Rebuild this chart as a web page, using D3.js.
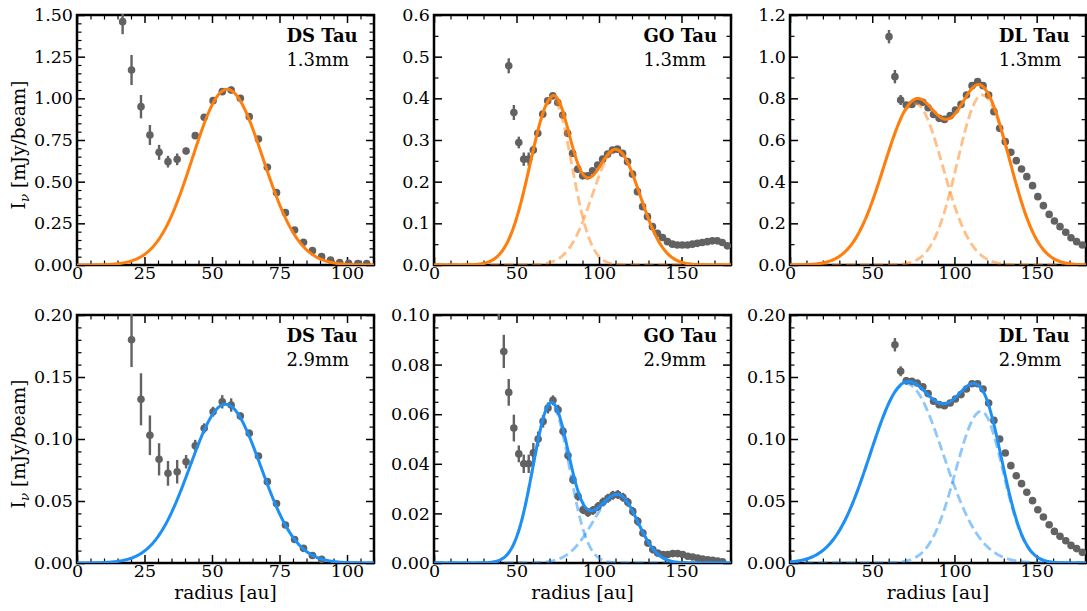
<!DOCTYPE html>
<html><head><meta charset="utf-8">
<script src="https://cdn.jsdelivr.net/npm/d3@7"></script>
<style>html,body{margin:0;padding:0;background:#fff;}svg{display:block;}</style>
</head><body>
<script>
// ---------------- DATA ----------------
const dsR13 = [16.9,20.2,23.7,27.0,30.4,33.7,37.1,40.4,43.8,47.1,50.4,53.8,57.1,60.5,63.8,67.2,70.5,73.9,77.2,80.6,83.9,87.2,90.6,93.9,97.3,100.6,104.0,107.3];
const dsI13 = [1.46,1.17,0.95,0.78,0.676,0.62,0.634,0.684,0.776,0.886,0.986,1.04,1.05,1.0,0.89,0.756,0.586,0.434,0.314,0.21,0.136,0.086,0.05,0.03,0.014,0.01,0.008,0.008];
const dsE13 = [0.075,0.09,0.07,0.06,0.045,0.035,0.035,0.02,0.02,0.015,0.015,0.02,0.02,0.015,0.012,0.012,0.01,0.01,0.01,0.01,0.01,0.01,0.008,0.008,0.008,0.008,0.008,0.008];

const dsR29 = [20.2,23.7,27.0,30.4,33.7,37.1,40.4,43.8,47.1,50.4,53.8,57.1,60.5,63.8,67.2,70.5,73.9,77.2,80.6,83.9,87.2,90.6];
const dsI29 = [0.18,0.132,0.103,0.0836,0.0723,0.0736,0.0817,0.0946,0.1086,0.122,0.130,0.1274,0.1185,0.1046,0.0863,0.0656,0.048,0.0306,0.019,0.0118,0.006,0.003];
const dsE29 = [0.022,0.021,0.016,0.013,0.010,0.0095,0.0054,0.0047,0.004,0.004,0.0054,0.0054,0.003,0.003,0.002,0.002,0.002,0.002,0.002,0.002,0.002,0.002];

const goR13 = [45.3,48.4,51.4,54.4,57.4,60.2,62.9,65.9,68.9,72.0,75.0,78.0,81.0,84.0,87.1,90.1,93.1,96.1,99.2,102.2,105.2,108.2,111.2,114.3,117.3,120.3,123.3,126.4,129.4,132.4,135.4,138.5,141.5,144.5,147.5,150.5,153.6,156.6,159.6,162.6,165.7,168.7,171.7,174.7,177.8];
const goI13 = [0.478,0.366,0.294,0.254,0.254,0.276,0.316,0.362,0.394,0.406,0.39,0.36,0.316,0.268,0.23,0.214,0.214,0.226,0.24,0.254,0.266,0.276,0.278,0.268,0.248,0.218,0.176,0.14,0.116,0.092,0.076,0.066,0.056,0.05,0.048,0.048,0.048,0.05,0.052,0.054,0.056,0.058,0.058,0.054,0.046];
const goE13 = [0.018,0.018,0.014,0.016,0.016,0.01,0.007,0.006,0.006,0.006,0.006,0.006,0.006,0.006,0.006,0.006,0.006,0.006,0.006,0.006,0.006,0.006,0.006,0.006,0.006,0.006,0.006,0.005,0.005,0.005,0.005,0.005,0.005,0.004,0.004,0.004,0.004,0.004,0.004,0.004,0.004,0.004,0.004,0.004,0.004];

const goR29 = [39.3,42.3,45.3,48.4,51.4,54.4,57.4,60.2,63.1,66.1,69.1,72.1,75.2,78.2,81.2,84.2,87.3,90.3,93.3,96.3,99.4,102.4,105.4,108.4,111.4,114.5,117.5,120.5,123.5,126.6,129.6,132.6,135.6,138.7,141.7,144.7,147.7,150.7,153.8,156.8,159.8,162.8,165.9,168.9,171.9,174.9];
const goI29 = [0.112,0.0853,0.0688,0.0544,0.044,0.040,0.040,0.0444,0.050,0.0571,0.0625,0.0656,0.0618,0.0531,0.0433,0.0336,0.0269,0.0215,0.0204,0.0212,0.0228,0.0246,0.0261,0.0273,0.0276,0.0265,0.0245,0.0208,0.0168,0.0121,0.0081,0.0054,0.004,0.0034,0.0034,0.0038,0.0038,0.0034,0.0027,0.0024,0.002,0.0016,0.0013,0.0011,0.0008,0.0005];
const goE29 = [0.014,0.0067,0.0054,0.0054,0.0034,0.0037,0.0037,0.004,0.003,0.0025,0.0022,0.002,0.002,0.002,0.002,0.0018,0.0018,0.0018,0.0018,0.0018,0.0018,0.0018,0.0018,0.0018,0.0018,0.0018,0.0018,0.0018,0.0018,0.0015,0.0015,0.0015,0.0012,0.0012,0.0012,0.0012,0.0012,0.0012,0.0012,0.0012,0.0012,0.0012,0.0012,0.0012,0.0012,0.0012];

const dlR13 = [60.2,63.8,67.3,70.7,74.1,77.4,80.8,84.0,87.3,90.7,93.9,97.4,100.6,104.0,107.3,110.7,114.1,117.4,120.8,124.0,127.5,130.9,134.3,137.6,140.8,144.0,147.5,150.7,154.1,157.6,160.8,164.2,167.7,170.9,174.3,177.8];
const dlI13 = [1.096,0.904,0.792,0.768,0.771,0.787,0.781,0.755,0.723,0.704,0.699,0.717,0.744,0.771,0.816,0.861,0.88,0.861,0.816,0.736,0.656,0.592,0.541,0.501,0.461,0.424,0.381,0.328,0.285,0.243,0.211,0.184,0.157,0.131,0.112,0.096];
const dlE13 = [0.032,0.032,0.024,0.015,0.012,0.012,0.012,0.012,0.012,0.012,0.012,0.012,0.012,0.012,0.012,0.012,0.012,0.012,0.012,0.012,0.01,0.01,0.01,0.01,0.01,0.01,0.01,0.01,0.01,0.01,0.01,0.01,0.01,0.01,0.01,0.01];

const dlR29 = [63.8,67.3,70.7,74.1,77.4,80.8,84.0,87.3,90.7,93.9,97.4,100.6,104.0,107.3,110.7,114.1,117.4,120.8,124.0,127.5,130.9,134.3,137.6,140.8,144.0,147.5,150.7,154.1,157.6,160.8,164.2,167.7,170.9,174.3,177.8];
const dlI29 = [0.176,0.1546,0.147,0.1465,0.1452,0.142,0.1366,0.1304,0.1277,0.1269,0.129,0.1323,0.1358,0.1403,0.1446,0.1446,0.1403,0.129,0.115,0.1,0.0887,0.0785,0.0704,0.064,0.057,0.0503,0.043,0.0371,0.0309,0.0255,0.0215,0.018,0.0142,0.0116,0.0086];
const dlE29 = [0.0054,0.004,0.003,0.0025,0.002,0.002,0.002,0.002,0.002,0.002,0.002,0.002,0.002,0.002,0.002,0.002,0.002,0.002,0.002,0.002,0.002,0.002,0.002,0.002,0.002,0.002,0.002,0.002,0.002,0.002,0.002,0.002,0.002,0.002,0.002];

// Gaussian ring components of the fitted model: [center au, peak, sigma inner, sigma outer]
const dsRings13 = [[55.6,1.054,12.9,13.3]];
const dsRings29 = [[55.0,0.128,13.2,13.1]];
const goRings13 = [[72.0,0.398,13.8,11.5],[110.4,0.276,14.5,14.5]];
const goRings29 = [[71.0,0.064,11.0,11.0],[111.4,0.0276,15.0,12.0]];
const dlRings13 = [[76.0,0.776,19.0,17.0],[116.8,0.816,15.0,17.0]];
const dlRings29 = [[70.7,0.1446,22.0,22.5],[116.2,0.1223,15.5,13.3]];

const sourceNames = ["DS Tau","GO Tau","DL Tau"];
const bandLabels = ["1.3mm","2.9mm"];
const xMaxes = [110,180,180];
const xTicksDS = [0,25,50,75,100];
const xTicksWide = [0,50,100,150];
const yMaxes = [[1.5,0.6,1.2],[0.2,0.1,0.2]];
const yMajorSteps = [[0.25,0.1,0.2],[0.05,0.02,0.05]];
const yMinorSteps = [[0.05,0.05,0.1],[0.01,0.005,0.01]];
const yDecimals = [[2,1,1],[2,2,2]];

// ---------------- LAYOUT ----------------
const W = 1087, H = 611;
const colX = [[77,374],[434,731],[790,1086]];
const rowY = [[15,265],[315,563]];
const bandColors = ["#ff7f0e","#1e8ff5"];
const ptColor = "#626262";
const FONT = "DejaVu Serif";
const FS = 17.5;
const LFS = 18.5;

const panels = [
  {row:0,col:0,r:dsR13,v:dsI13,e:dsE13,rings:dsRings13},
  {row:0,col:1,r:goR13,v:goI13,e:goE13,rings:goRings13},
  {row:0,col:2,r:dlR13,v:dlI13,e:dlE13,rings:dlRings13},
  {row:1,col:0,r:dsR29,v:dsI29,e:dsE29,rings:dsRings29},
  {row:1,col:1,r:goR29,v:goI29,e:goE29,rings:goRings29},
  {row:1,col:2,r:dlR29,v:dlI29,e:dlE29,rings:dlRings29},
];

function ringVal(r, c){
  const s = r < c[0] ? c[2] : c[3];
  return c[1]*Math.exp(-0.5*Math.pow((r-c[0])/s,2));
}
function stepTicks(max, step){
  const n = Math.round(max/step);
  return d3.range(n+1).map(i => +(i*step).toFixed(6));
}

const svg = d3.select("body").append("svg").attr("width",W).attr("height",H)
  .style("font-family",FONT);

panels.forEach((p, idx) => {
  const [x0,x1] = colX[p.col], [y0,y1] = rowY[p.row];
  const xmax = xMaxes[p.col];
  const ymax = yMaxes[p.row][p.col];
  const x = d3.scaleLinear().domain([0,xmax]).range([x0,x1]);
  const y = d3.scaleLinear().domain([0,ymax]).range([y1,y0]);
  const color = bandColors[p.row];
  const g = svg.append("g");

  const xMaj = p.col===0 ? xTicksDS : xTicksWide;
  const xMin = stepTicks(xmax, p.col===0 ? 5 : 10).filter(t => !xMaj.includes(t));
  const yMaj = stepTicks(ymax, yMajorSteps[p.row][p.col]);
  const yMin = stepTicks(ymax, yMinorSteps[p.row][p.col]).filter(t => !yMaj.some(m => Math.abs(m-t)<1e-9));
  const fmt = d3.format("."+yDecimals[p.row][p.col]+"f");

  // frame
  g.append("rect").attr("x",x0).attr("y",y0).attr("width",x1-x0).attr("height",y1-y0)
    .attr("fill","none").attr("stroke","#000").attr("stroke-width",2.5);

  function styleAxis(sel, w){
    sel.select(".domain").remove();
    sel.selectAll(".tick line").attr("stroke","#000").attr("stroke-width",w);
    sel.attr("font-family",FONT).attr("font-size",FS);
    sel.selectAll("text").attr("fill","#000");
  }
  // major ticks
  g.append("g").attr("transform",`translate(0,${y1})`)
    .call(d3.axisBottom(x).tickValues(xMaj).tickSize(-8).tickPadding(1.5).tickFormat(d3.format("d")))
    .call(s => styleAxis(s,1.5));
  g.append("g").attr("transform",`translate(0,${y0})`)
    .call(d3.axisTop(x).tickValues(xMaj).tickSize(-8).tickFormat(""))
    .call(s => styleAxis(s,1.5));
  g.append("g").attr("transform",`translate(${x0},0)`)
    .call(d3.axisLeft(y).tickValues(yMaj).tickSize(-8).tickPadding(4).tickFormat(fmt))
    .call(s => styleAxis(s,1.5));
  g.append("g").attr("transform",`translate(${x1},0)`)
    .call(d3.axisRight(y).tickValues(yMaj).tickSize(-8).tickFormat(""))
    .call(s => styleAxis(s,1.5));
  // minor ticks
  g.append("g").attr("transform",`translate(0,${y1})`)
    .call(d3.axisBottom(x).tickValues(xMin).tickSize(-4.5).tickFormat("")).call(s => styleAxis(s,1.2));
  g.append("g").attr("transform",`translate(0,${y0})`)
    .call(d3.axisTop(x).tickValues(xMin).tickSize(-4.5).tickFormat("")).call(s => styleAxis(s,1.2));
  g.append("g").attr("transform",`translate(${x0},0)`)
    .call(d3.axisLeft(y).tickValues(yMin).tickSize(-4.5).tickFormat("")).call(s => styleAxis(s,1.2));
  g.append("g").attr("transform",`translate(${x1},0)`)
    .call(d3.axisRight(y).tickValues(yMin).tickSize(-4.5).tickFormat("")).call(s => styleAxis(s,1.2));

  // clip
  const cid = "clip"+idx;
  svg.append("clipPath").attr("id",cid).append("rect")
    .attr("x",x0).attr("y",y0-1).attr("width",x1-x0).attr("height",y1-y0+1);
  const c = g.append("g").attr("clip-path",`url(#${cid})`);

  // data points with error bars
  const pts = p.r.map((r,i) => ({r, v:p.v[i], e:p.e[i]}));
  c.selectAll("line.err").data(pts).enter().append("line")
    .attr("x1",d=>x(d.r)).attr("x2",d=>x(d.r))
    .attr("y1",d=>y(d.v-d.e)).attr("y2",d=>y(d.v+d.e))
    .attr("stroke",ptColor).attr("stroke-width",2.4);
  c.selectAll("circle").data(pts).enter().append("circle")
    .attr("cx",d=>x(d.r)).attr("cy",d=>y(d.v)).attr("r",3.8).attr("fill",ptColor);

  // model
  const rs = d3.range(0, xmax+0.001, 0.25);
  const line = d3.line().x(d=>x(d[0])).y(d=>y(d[1]));
  if (p.rings.length > 1) {
    p.rings.forEach(ring => {
      c.append("path").datum(rs.map(r => [r, ringVal(r, ring)]))
        .attr("d",line).attr("fill","none").attr("stroke",color)
        .attr("stroke-opacity",0.5).attr("stroke-width",2.8).attr("stroke-dasharray","9.5,4.5");
    });
  }
  c.append("path").datum(rs.map(r => [r, d3.sum(p.rings, ring => ringVal(r, ring))]))
    .attr("d",line).attr("fill","none").attr("stroke",color).attr("stroke-width",3);

  // labels
  const tx = x0 + 0.705*(x1-x0);
  g.append("text").attr("x",tx).attr("y",y0+26.5).attr("font-size",FS+0.5).attr("font-weight","bold")
    .text(sourceNames[p.col]);
  g.append("text").attr("x",tx).attr("y",y0+50.5).attr("font-size",FS+0.5)
    .text(bandLabels[p.row]);

  if (p.col === 0) {
    const t = g.append("text")
      .attr("transform",`translate(25,${(y0+y1)/2+5}) rotate(-90)`)
      .attr("text-anchor","middle").attr("font-size",LFS);
    t.append("tspan").text("I");
    t.append("tspan").attr("font-size",13.5).attr("font-style","italic").attr("dy",3.8).text("ν");
    t.append("tspan").attr("dy",-3.8).text(" [mJy/beam]");
  }
  if (p.row === 1) {
    g.append("text").attr("x",(x0+x1)/2).attr("y",599).attr("text-anchor","middle")
      .attr("font-size",LFS).text("radius [au]");
  }
});
</script>
</body></html>
